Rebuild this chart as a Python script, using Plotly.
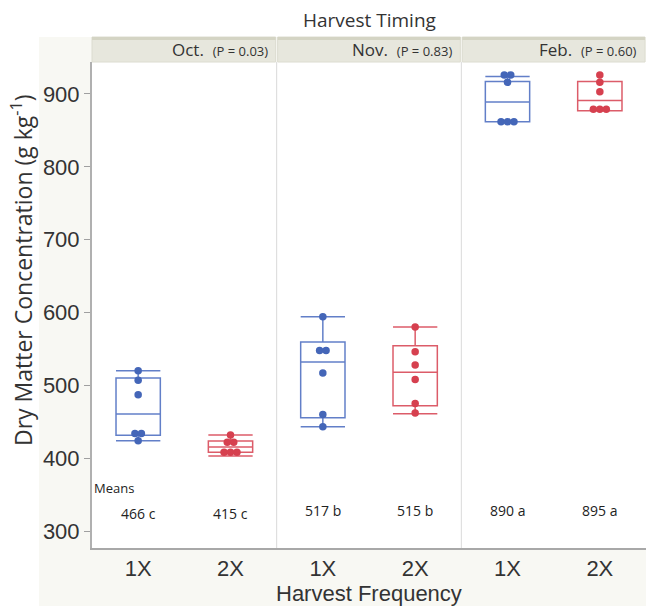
import numpy as np
import plotly.graph_objects as go
from plotly.subplots import make_subplots

# ---- data ----
timings = ["Oct.", "Nov.", "Feb."]
p_values = ["(P = 0.03)", "(P = 0.83)", "(P = 0.60)"]
frequencies = ["1X", "2X"]

points = {
    ("Oct.", "1X"): [520, 507, 487, 434, 434, 424],
    ("Oct.", "2X"): [432, 422, 422, 408, 408, 408],
    ("Nov.", "1X"): [594, 548, 548, 517, 460, 443],
    ("Nov.", "2X"): [580, 546, 528, 508, 475, 462],
    ("Feb.", "1X"): [926, 926, 916, 862, 862, 862],
    ("Feb.", "2X"): [926, 916, 903, 879, 879, 879],
}

# box statistics (order: Oct1X, Oct2X, Nov1X, Nov2X, Feb1X, Feb2X)
box_q1 = [431.5, 408, 455.5, 472, 862, 877]
box_median = [460.5, 415.5, 532, 518, 889, 891]
box_q3 = [510, 423.5, 559.5, 554.5, 917, 917]
box_lower = [424, 403, 443, 461, 862, 877]
box_upper = [520, 432, 594, 580, 924, 917]

means = [466, 415, 517, 515, 890, 895]
letters = ["c", "c", "b", "b", "a", "a"]

colors = {"1X": "#4466b8", "2X": "#d6404f"}
box_colors = {"1X": "rgba(70,105,190,0.85)", "2X": "rgba(214,64,79,0.85)"}

W, H = 646, 606
ML, MR, MT, MB = 92, 0, 62, 58
PW = W - ML - MR
PH = H - MT - MB

fig = make_subplots(rows=1, cols=3, shared_yaxes=True, horizontal_spacing=0)

k = 0
for ci, t in enumerate(timings):
    for fi, f in enumerate(frequencies):
        pos = fi + 1
        fig.add_trace(go.Box(
            x=[pos], q1=[box_q1[k]], median=[box_median[k]], q3=[box_q3[k]],
            lowerfence=[box_lower[k]], upperfence=[box_upper[k]],
            width=0.48, whiskerwidth=1, boxpoints=False,
            line=dict(color=box_colors[f], width=1.5),
            fillcolor="rgba(0,0,0,0)", showlegend=False, hoverinfo="skip"),
            row=1, col=ci + 1)
        vals = points[(t, f)]
        xs = []
        for i, v in enumerate(vals):
            same = [j for j, w in enumerate(vals) if w == v]
            n = len(same)
            idx = same.index(i)
            xs.append(pos + (idx - (n - 1) / 2) * 0.07)
        fig.add_trace(go.Scatter(
            x=xs, y=vals, mode="markers",
            marker=dict(color=colors[f], size=7.5),
            showlegend=False, hoverinfo="y"),
            row=1, col=ci + 1)
        k += 1

tick_font = dict(family="Liberation Sans, Arial, sans-serif", size=22, color="#333")
for ci in range(3):
    fig.update_xaxes(range=[0.5, 2.5], tickvals=[1, 2], ticktext=frequencies,
                     showline=True, linecolor="#a8a8a8", linewidth=1.5,
                     showgrid=False, zeroline=False, ticks="",
                     tickfont=tick_font, automargin=False, row=1, col=ci + 1)
fig.update_yaxes(range=[276.7, 943.9], tickvals=[300, 400, 500, 600, 700, 800, 900],
                 showgrid=False, zeroline=False, showline=False, automargin=False)
fig.update_yaxes(showline=True, linecolor="#b0b0b0", linewidth=2,
                 ticks="outside", ticklen=6, tickcolor="#a0a0a0",
                 tickfont=tick_font, row=1, col=1)

def px_x(p):
    return (p - ML) / PW

def px_y(p):
    return (H - MB - p) / PH

shapes = [
    dict(type="rect", xref="paper", yref="paper", x0=px_x(-5), x1=px_x(39),
         y0=px_y(H + 5), y1=px_y(-5), fillcolor="white", line_width=0, layer="below"),
    dict(type="rect", xref="paper", yref="paper", x0=px_x(-5), x1=px_x(W + 5),
         y0=px_y(37), y1=px_y(-5), fillcolor="white", line_width=0, layer="below"),
]
for ci in range(3):
    x0 = ci / 3 + (0.0 if ci == 0 else 1 / PW)
    x1 = (ci + 1) / 3 - 1 / PW
    shapes.append(dict(type="rect", xref="paper", yref="paper", x0=x0, x1=x1,
                       y0=px_y(62), y1=px_y(37), fillcolor="#e7e7dd",
                       line=dict(color="#dcdcd0", width=1), layer="below"))
    shapes.append(dict(type="rect", xref="paper", yref="paper", x0=x0, x1=x1,
                       y0=px_y(40), y1=px_y(37), fillcolor="#d4d4c4",
                       line_width=0, layer="below"))
for ci in (1, 2):
    shapes.append(dict(type="line", xref="paper", yref="paper", x0=ci / 3, x1=ci / 3,
                       y0=0, y1=1, line=dict(color="#dadada", width=1)))

ann_font = "Open Sans, Lato, sans-serif"
annotations = [
    dict(text="Harvest Timing", xref="paper", yref="paper", x=0.5, y=px_y(20),
         showarrow=False, font=dict(family=ann_font, size=19, color="#333"),
         xanchor="center", yanchor="middle"),
    dict(text="Dry Matter Concentration (g kg<sup>-1</sup>)", xref="paper", yref="paper",
         x=px_x(22), y=px_y(270), textangle=-90, showarrow=False,
         font=dict(family=ann_font, size=23, color="#333"),
         xanchor="center", yanchor="middle"),
    dict(text="Harvest Frequency", xref="paper", yref="paper", x=0.5, y=px_y(593),
         showarrow=False, font=dict(family="Liberation Sans, Arial, sans-serif", size=22, color="#333"),
         xanchor="center", yanchor="middle"),
    dict(text="Means", xref="paper", yref="paper", x=0.0, y=px_y(488),
         showarrow=False, font=dict(family=ann_font, size=13, color="#222"),
         xanchor="left", yanchor="middle"),
]
for ci in range(3):
    annotations.append(dict(
        text=f"{timings[ci]}  <span style='font-size:13px'>{p_values[ci]}</span>",
        xref="paper", yref="paper", x=(ci + 1) / 3 - 7 / PW, y=px_y(50),
        showarrow=False, font=dict(family=ann_font, size=17, color="#333"),
        xanchor="right", yanchor="middle"))
k = 0
for ci in range(3):
    for fi in range(2):
        axis = "x" if ci == 0 else f"x{ci + 1}"
        annotations.append(dict(
            text=f"{means[k]} {letters[k]}", xref=axis, yref="paper", x=fi + 1,
            y=px_y(513 if ci == 0 else 510), showarrow=False,
            font=dict(family=ann_font, size=14, color="#222"),
            xanchor="center", yanchor="middle"))
        k += 1

fig.update_layout(
    width=W, height=H, margin=dict(l=ML, r=MR, t=MT, b=MB, autoexpand=False),
    paper_bgcolor="#f8f8f3", plot_bgcolor="white",
    shapes=shapes, annotations=annotations, showlegend=False,
)

fig.write_html("out.html", config={"displayModeBar": False},
               post_script="document.body.style.margin='0px';")
